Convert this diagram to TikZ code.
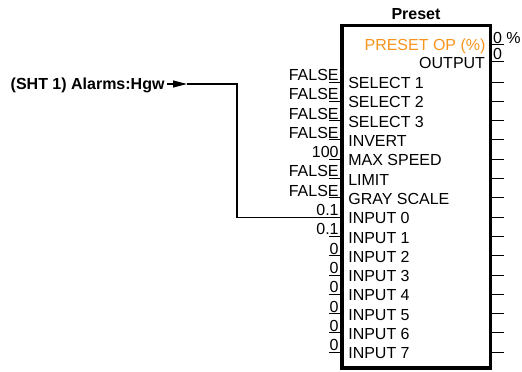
\documentclass[tikz,border=0pt]{standalone}
\usepackage{fontspec}
\setmainfont{Liberation Sans}
\usetikzlibrary{arrows.meta}
\definecolor{presetorange}{RGB}{247,148,29}
\tikzset{
  every node/.style={font=\fontsize{16bp}{18bp}\selectfont, inner sep=0pt, outer sep=0pt},
  pin/.style={line width=1bp},
  wire/.style={line width=1.1bp},
  lbl/.style={anchor=base west},
  val/.style={anchor=base east},
  oval/.style={anchor=base west},
  olbl/.style={anchor=base east},
  blockbox/.style={draw, line width=3.2bp, minimum width=148.7bp, minimum height=342.3bp},
}
\begin{document}
\begin{tikzpicture}[x=1bp,y=-1bp]
\useasboundingbox (0,0) rectangle (522,371);
% block
\node[blockbox] (box) at (416.3,196.9) {};
\node[anchor=base, font=\fontsize{16bp}{18bp}\selectfont\bfseries] (title) at (416,19.3) {Preset};
% outputs
\node[olbl, text=presetorange] (o1l) at (485.5,50.5) {PRESET OP (\%)};
\node[olbl] (o2l) at (485,68.3) {OUTPUT};
\node[oval] (o1v) at (493,43) {0 \%};
\node[oval] (o2v) at (493,59.5) {0};
\coordinate (o1a) at (490.7,44.5); \coordinate (o1b) at (504,44.5);
\coordinate (o2a) at (490.7,61);   \coordinate (o2b) at (504,61);
\draw[pin] (o1a) -- (o1b);
\draw[pin] (o2a) -- (o2b);
% input rows
\foreach \i/\lab/\v in {0/SELECT 1/FALSE,1/SELECT 2/FALSE,2/SELECT 3/FALSE,3/INVERT/FALSE,
  4/MAX SPEED/100,5/LIMIT/FALSE,6/GRAY SCALE/FALSE,7/INPUT 0/0.1,8/INPUT 1/0.1,
  9/INPUT 2/0,10/INPUT 3/0,11/INPUT 4/0,12/INPUT 5/0,13/INPUT 6/0,14/INPUT 7/0}{
  \pgfmathsetmacro{\yy}{82+19.3*\i}
  \coordinate (inl\i) at (329,\yy);
  \coordinate (inr\i) at (341,\yy);
  \coordinate (outl\i) at (490.7,\yy);
  \coordinate (outr\i) at (504,\yy);
  \node[lbl] (lab\i) at (348.3,\yy+6.6) {\lab};
  \node[val] (val\i) at (338.6,\yy-1.6) {\v};
  \draw[pin] (inl\i) -- (inr\i);
  \draw[pin] (outl\i) -- (outr\i);
}
% source connector
\node[anchor=base east, font=\fontsize{16bp}{18bp}\selectfont\bfseries] (src) at (164.5,89) {(SHT 1) Alarms:Hgw};
\coordinate (a0) at (167,84);
\coordinate (a1) at (187,84);
\coordinate (bend) at (237,84);
\draw[wire, -{Triangle[length=14bp,width=7bp]}] (a0) -- (a1);
\draw[wire] (a1) -- (bend) |- (inr7);
\end{tikzpicture}
\end{document}
